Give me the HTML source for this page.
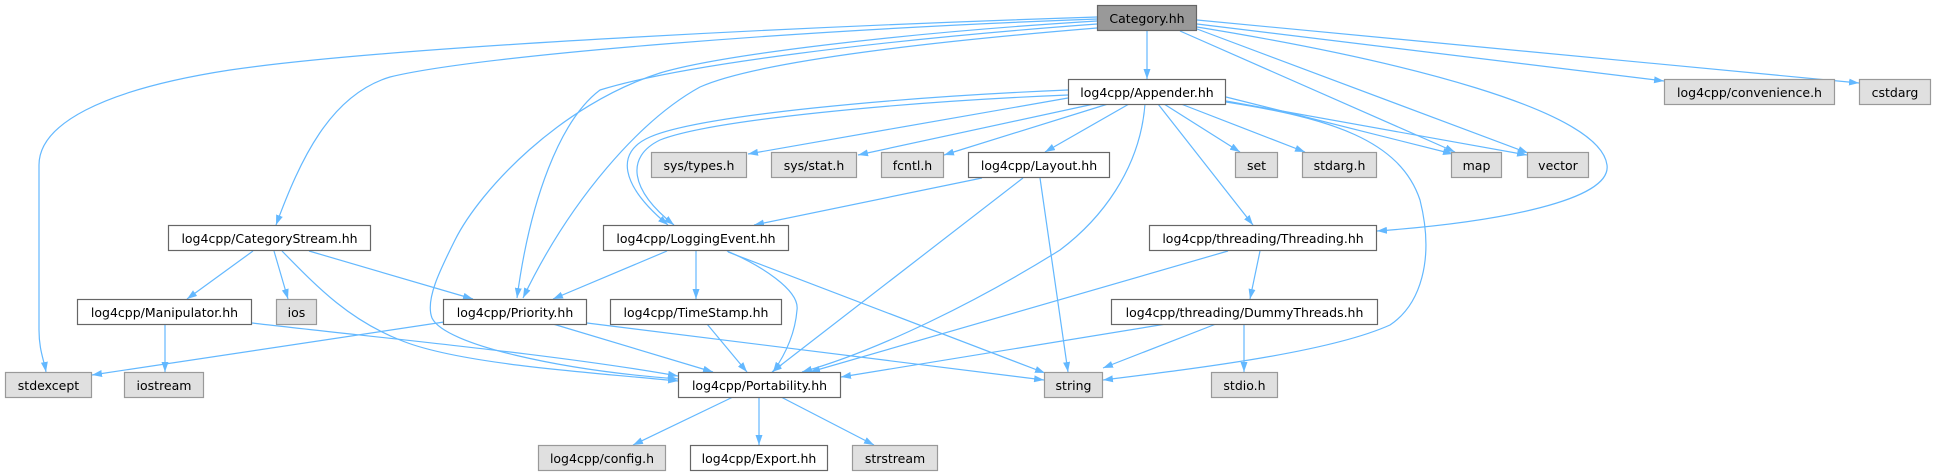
<!DOCTYPE html>
<html><head><meta charset="utf-8"><style>
html,body{margin:0;padding:0;background:#fff;}
svg{display:block;}
text{font-family:"DejaVu Sans","Liberation Sans",sans-serif;font-size:12.5px;fill:#000;text-anchor:middle;}
.e{fill:none;stroke:#63b8ff;stroke-width:1.2;marker-end:url(#a);}
.w{fill:#fff;stroke:#666;stroke-width:1.2;}
.g{fill:#e0e0e0;stroke:#999;stroke-width:1.2;}
.d{fill:#999;stroke:#666;stroke-width:1.2;}
</style></head><body>
<svg width="1936" height="476" viewBox="0 0 1936 476" xmlns="http://www.w3.org/2000/svg">
<defs>
<marker id="a" viewBox="0 0 10 7" refX="10" refY="3.5" markerWidth="10" markerHeight="7" markerUnits="userSpaceOnUse" orient="auto">
<path d="M0,0 L10,3.5 L0,7 z" fill="#63b8ff"/>
</marker>
</defs>
<!-- edges -->
<path class="e" d="M1147,31 L1147,79"/>
<path class="e" d="M1197,24 L1664,81"/>
<path class="e" d="M1197,20 L1859,83"/>
<path class="e" d="M1180,31 L1455,152"/>
<path class="e" d="M1197,29 L1528,153"/>
<path class="e" d="M1226,97 L1453,154"/>
<path class="e" d="M1226,101 L1527,155"/>
<path class="e" d="M1197,27 C1400,60 1600,110 1607,165 C1612,200 1500,222 1377,231"/>
<path class="e" d="M1097,17 C850,25 400,45 230,70 C100,90 39,125 39,165 L39,330 C39,350 44,360 46,372"/>
<path class="e" d="M1097,19 C800,30 480,55 390,77 C330,95 300,160 276,225"/>
<path class="e" d="M1097,21 C900,33 720,55 660,73 C560,105 480,190 455,240 C440,270 425,300 432,318 C445,345 560,370 678,379"/>
<path class="e" d="M1097,24 C880,40 680,65 600,90 C560,120 530,200 517,298"/>
<path class="e" d="M1097,28 C950,40 760,60 700,87 C640,120 570,200 523,298"/>
<path class="e" d="M1068,90 C900,97 700,115 650,137 C615,152 620,185 668,225"/>
<path class="e" d="M1068,95 C900,102 710,120 660,140 C625,157 630,190 674,225"/>
<path class="e" d="M1068,98 L748,154"/>
<path class="e" d="M1094,104 L858,155"/>
<path class="e" d="M1108,104 L944,155"/>
<path class="e" d="M1129,104 L1045,152"/>
<path class="e" d="M1164,104 L1240,152"/>
<path class="e" d="M1181,104 L1305,152"/>
<path class="e" d="M1158,104 L1253,225"/>
<path class="e" d="M1145,104 C1140,170 1100,220 1060,250 C980,300 880,350 802,372"/>
<path class="e" d="M1226,102 C1330,118 1400,140 1420,200 C1435,260 1420,305 1390,325 C1330,352 1200,368 1103,380"/>
<path class="e" d="M982,178 L754,225"/>
<path class="e" d="M1023,178 L772,372"/>
<path class="e" d="M1040,178 L1068,372"/>
<path class="e" d="M667,251 L553,299"/>
<path class="e" d="M696,251 L696,299"/>
<path class="e" d="M727,251 C760,265 800,290 797,310 C795,335 785,355 773,372"/>
<path class="e" d="M728,252 L1045,373"/>
<path class="e" d="M1260,251 L1250,299"/>
<path class="e" d="M1228,251 L810,372"/>
<path class="e" d="M1166,324 L841,377"/>
<path class="e" d="M1216,324 L1103,368"/>
<path class="e" d="M1244,324 L1244,372"/>
<path class="e" d="M253,251 L187,299"/>
<path class="e" d="M274,251 L288,299"/>
<path class="e" d="M309,251 L473,299"/>
<path class="e" d="M282,251 C320,290 350,320 400,340 C460,365 600,373 678,381"/>
<path class="e" d="M165,324 L165,372"/>
<path class="e" d="M252,323 C400,340 560,355 678,376"/>
<path class="e" d="M444,322 L92,375"/>
<path class="e" d="M553,324 L713,372"/>
<path class="e" d="M587,323 L1044,380"/>
<path class="e" d="M707,324 L747,372"/>
<path class="e" d="M733,397 L633,445"/>
<path class="e" d="M759,397 L759,445"/>
<path class="e" d="M781,397 L874,445"/>
<!-- nodes -->
<rect class="d" x="1097.5" y="5.5" width="99" height="25"/><text x="1147" y="23">Category.hh</text>
<rect class="w" x="1068.5" y="79.5" width="157" height="25"/><text x="1147" y="97">log4cpp/Appender.hh</text>
<rect class="g" x="1664.5" y="79.5" width="170" height="25"/><text x="1749.5" y="97">log4cpp/convenience.h</text>
<rect class="g" x="1859.5" y="79.5" width="71" height="25"/><text x="1895" y="97">cstdarg</text>
<rect class="g" x="651.5" y="152.5" width="95" height="25"/><text x="699" y="170">sys/types.h</text>
<rect class="g" x="771.5" y="152.5" width="85" height="25"/><text x="814" y="170">sys/stat.h</text>
<rect class="g" x="881.5" y="152.5" width="62" height="25"/><text x="912.5" y="170">fcntl.h</text>
<rect class="w" x="968.5" y="152.5" width="141" height="25"/><text x="1039" y="170">log4cpp/Layout.hh</text>
<rect class="g" x="1235.5" y="152.5" width="42" height="25"/><text x="1256.5" y="170">set</text>
<rect class="g" x="1302.5" y="152.5" width="74" height="25"/><text x="1339.5" y="170">stdarg.h</text>
<rect class="g" x="1451.5" y="152.5" width="50" height="25"/><text x="1476.5" y="170">map</text>
<rect class="g" x="1527.5" y="152.5" width="61" height="25"/><text x="1558" y="170">vector</text>
<rect class="w" x="168.5" y="225.5" width="202" height="25"/><text x="269.5" y="243">log4cpp/CategoryStream.hh</text>
<rect class="w" x="603.5" y="225.5" width="185" height="25"/><text x="696" y="243">log4cpp/LoggingEvent.hh</text>
<rect class="w" x="1149.5" y="225.5" width="227" height="25"/><text x="1263" y="243">log4cpp/threading/Threading.hh</text>
<rect class="w" x="77.5" y="299.5" width="174" height="25"/><text x="164.5" y="317">log4cpp/Manipulator.hh</text>
<rect class="g" x="276.5" y="299.5" width="40" height="25"/><text x="296.5" y="317">ios</text>
<rect class="w" x="443.5" y="299.5" width="143" height="25"/><text x="515" y="317">log4cpp/Priority.hh</text>
<rect class="w" x="610.5" y="299.5" width="171" height="25"/><text x="696" y="317">log4cpp/TimeStamp.hh</text>
<rect class="w" x="1111.5" y="299.5" width="266" height="25"/><text x="1244.5" y="317">log4cpp/threading/DummyThreads.hh</text>
<rect class="g" x="5.5" y="372.5" width="86" height="25"/><text x="48.5" y="390">stdexcept</text>
<rect class="g" x="124.5" y="372.5" width="79" height="25"/><text x="164" y="390">iostream</text>
<rect class="w" x="678.5" y="372.5" width="162" height="25"/><text x="759.5" y="390">log4cpp/Portability.hh</text>
<rect class="g" x="1044.5" y="372.5" width="58" height="25"/><text x="1073.5" y="390">string</text>
<rect class="g" x="1211.5" y="372.5" width="66" height="25"/><text x="1244.5" y="390">stdio.h</text>
<rect class="g" x="538.5" y="445.5" width="127" height="25"/><text x="602" y="463">log4cpp/config.h</text>
<rect class="w" x="690.5" y="445.5" width="137" height="25"/><text x="759" y="463">log4cpp/Export.hh</text>
<rect class="g" x="852.5" y="445.5" width="85" height="25"/><text x="895" y="463">strstream</text>
</svg>
</body></html>
